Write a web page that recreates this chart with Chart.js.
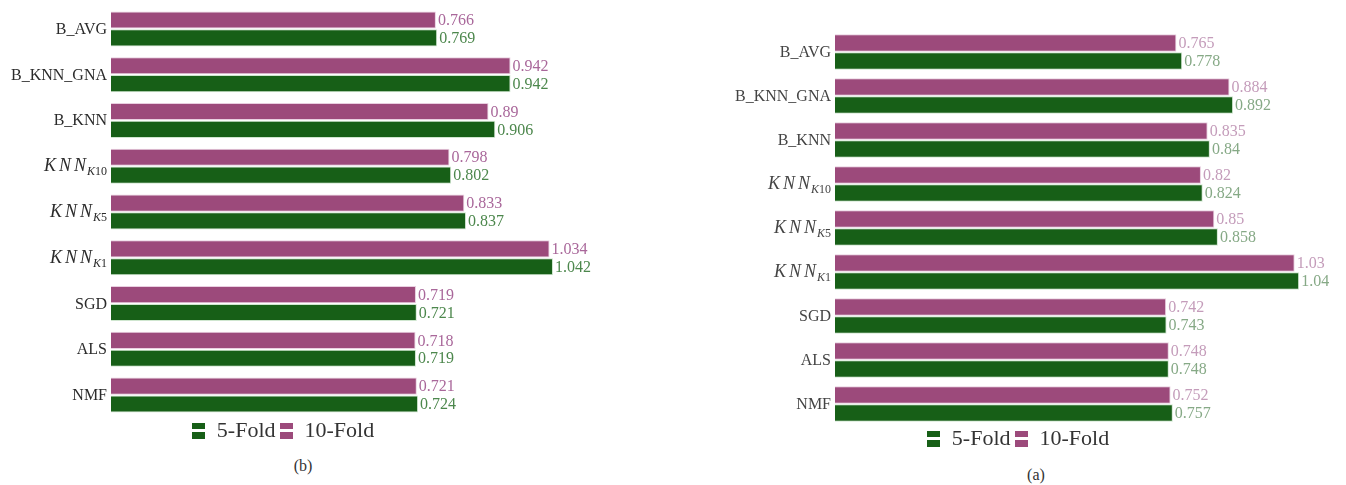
<!DOCTYPE html>
<html>
<head>
<meta charset="utf-8">
<script src="https://cdn.jsdelivr.net/npm/chart.js@4.4.1/dist/chart.umd.min.js"></script>
<style>
  body { margin: 0; background: #fff; width: 1346px; height: 485px; overflow: hidden; position: relative; }
  .panel { position: absolute; }
  .caption { position: absolute; font-family: "Liberation Serif", serif; font-size: 16px; color: #333; transform: translateX(-50%); }
</style>
</head>
<body>
<div class="panel" style="left:0;top:0;"><canvas id="chartB" width="620" height="454"></canvas></div>
<div class="panel" style="left:700px;top:0;"><canvas id="chartA" width="646" height="462"></canvas></div>
<div class="caption" style="left:303px;top:457px;">(b)</div>
<div class="caption" style="left:1036px;top:466px;">(a)</div>
<script>
// 데이터
const categories = ['B_AVG', 'B_KNN_GNA', 'B_KNN', 'KNN_K10', 'KNN_K5', 'KNN_K1', 'SGD', 'ALS', 'NMF'];
const foldB5 = [0.769, 0.942, 0.906, 0.802, 0.837, 1.042, 0.721, 0.719, 0.724];
const foldB10 = [0.766, 0.942, 0.89, 0.798, 0.833, 1.034, 0.719, 0.718, 0.721];
const foldA5 = [0.778, 0.892, 0.84, 0.824, 0.858, 1.04, 0.743, 0.748, 0.757];
const foldA10 = [0.765, 0.884, 0.835, 0.82, 0.85, 1.03, 0.742, 0.748, 0.752];

const PURPLE = '#9c4a7b';
const GREEN = '#175f17';
const SERIF = '"Liberation Serif", "DejaVu Serif", serif';

// 범례 아이콘 (두 칸짜리 사각형)
function legendIcon(color) {
    const c = document.createElement('canvas');
    c.width = 13; c.height = 16;
    const g = c.getContext('2d');
    g.fillStyle = color;
    g.fillRect(0, 0, 13, 6);
    g.fillRect(0, 9, 13, 7);
    return c;
}

// y축 라벨 직접 그리기 (KNN 아래첨자)
const tickLabels = {
    id: 'tickLabels',
    afterDraw(chart, args, opts) {
        const ctx = chart.ctx;
        const y = chart.scales.y;
        ctx.save();
        ctx.fillStyle = opts.color;
        ctx.textBaseline = 'alphabetic';
        chart.data.labels.forEach((name, i) => {
            const py = y.getPixelForValue(i);
            const xr = y.right - 4;
            if (name.startsWith('KNN_')) {
                const sub = name.slice(4);
                ctx.font = 'italic 18px ' + SERIF;
                const spacing = 3;
                const letters = 'KNN'.split('');
                const mainW = letters.reduce((s, ch) => s + ctx.measureText(ch).width, 0) + spacing * 2;
                ctx.font = 'italic 12px ' + SERIF;
                const kW = ctx.measureText(sub[0]).width;
                ctx.font = '12px ' + SERIF;
                const nW = ctx.measureText(sub.slice(1)).width;
                let x = xr - (mainW + 1 + kW + nW);
                ctx.textAlign = 'left';
                ctx.font = 'italic 18px ' + SERIF;
                letters.forEach(ch => {
                    ctx.fillText(ch, x, py + 5);
                    x += ctx.measureText(ch).width + spacing;
                });
                x += 1 - spacing;
                ctx.font = 'italic 12px ' + SERIF;
                ctx.fillText(sub[0], x, py + 9);
                x += kW;
                ctx.font = '12px ' + SERIF;
                ctx.fillText(sub.slice(1), x, py + 9);
            } else {
                ctx.textAlign = 'right';
                ctx.font = '16px ' + SERIF;
                ctx.fillText(name, xr, py + 5);
            }
        });
        ctx.restore();
    }
};

// 막대 끝 값 표시
const valueLabels = {
    id: 'valueLabels',
    afterDatasetsDraw(chart) {
        const ctx = chart.ctx;
        ctx.save();
        ctx.font = '16px ' + SERIF;
        ctx.textAlign = 'left';
        ctx.textBaseline = 'middle';
        chart.data.datasets.forEach((ds, di) => {
            const meta = chart.getDatasetMeta(di);
            meta.data.forEach((bar, i) => {
                ctx.fillStyle = ds.labelColor;
                ctx.fillText(String(ds.data[i]), bar.x + 2, bar.y + 1);
            });
        });
        ctx.restore();
    }
};

// 범례 위치 미세 조정
const legendShift = {
    id: 'legendShift',
    afterLayout(chart, args, opts) {
        const lg = chart.legend;
        if (!lg) return;
        lg.left += opts.dx; lg.right += opts.dx;
        lg.top += opts.dy; lg.bottom += opts.dy;
    }
};

function createFoldChart(canvasId, data5, data10, opt) {
    const ctx = document.getElementById(canvasId);
    return new Chart(ctx, {
        type: 'bar',
        data: {
            labels: categories,
            datasets: [{
                label: '10-Fold',
                data: data10,
                backgroundColor: PURPLE,
                borderColor: '#e9cfe0',
                borderWidth: 1,
                labelColor: opt.purpleText,
                pointStyle: legendIcon(PURPLE),
                categoryPercentage: opt.catPct,
                barPercentage: 0.96
            }, {
                label: '5-Fold',
                data: data5,
                backgroundColor: GREEN,
                borderColor: '#cfe6cf',
                borderWidth: 1,
                labelColor: opt.greenText,
                pointStyle: legendIcon(GREEN),
                categoryPercentage: opt.catPct,
                barPercentage: 0.96
            }]
        },
        options: {
            indexAxis: 'y',
            responsive: false,
            animation: false,
            layout: { padding: { top: opt.top, left: 0, right: 0, bottom: 0 } },
            plugins: {
                legend: {
                    position: 'bottom',
                    reverse: true,
                    labels: {
                        usePointStyle: true,
                        pointStyleWidth: 14,
                        padding: 4,
                        color: '#333',
                        font: { family: SERIF, size: 22 }
                    }
                },
                tooltip: { enabled: false },
                tickLabels: { color: opt.tickColor },
                legendShift: { dx: opt.legendDx, dy: -2 }
            },
            scales: {
                x: { display: false, min: 0, max: opt.max },
                y: {
                    grid: { display: false },
                    border: { display: false },
                    ticks: { display: false },
                    afterFit: function(scale) { scale.width = opt.axisWidth; }
                }
            }
        },
        plugins: [tickLabels, valueLabels, legendShift]
    });
}

createFoldChart('chartB', foldB5, foldB10, {
    top: 6, max: 1.2, axisWidth: 111, catPct: 0.78, legendDx: -27,
    tickColor: '#2b2b2b', purpleText: '#a9679a', greenText: '#4c874c'
});
createFoldChart('chartA', foldA5, foldA10, {
    top: 30, max: 1.145, axisWidth: 135, catPct: 0.82, legendDx: -5,
    tickColor: '#444', purpleText: '#c49cba', greenText: '#86a986'
});
</script>
</body>
</html>
